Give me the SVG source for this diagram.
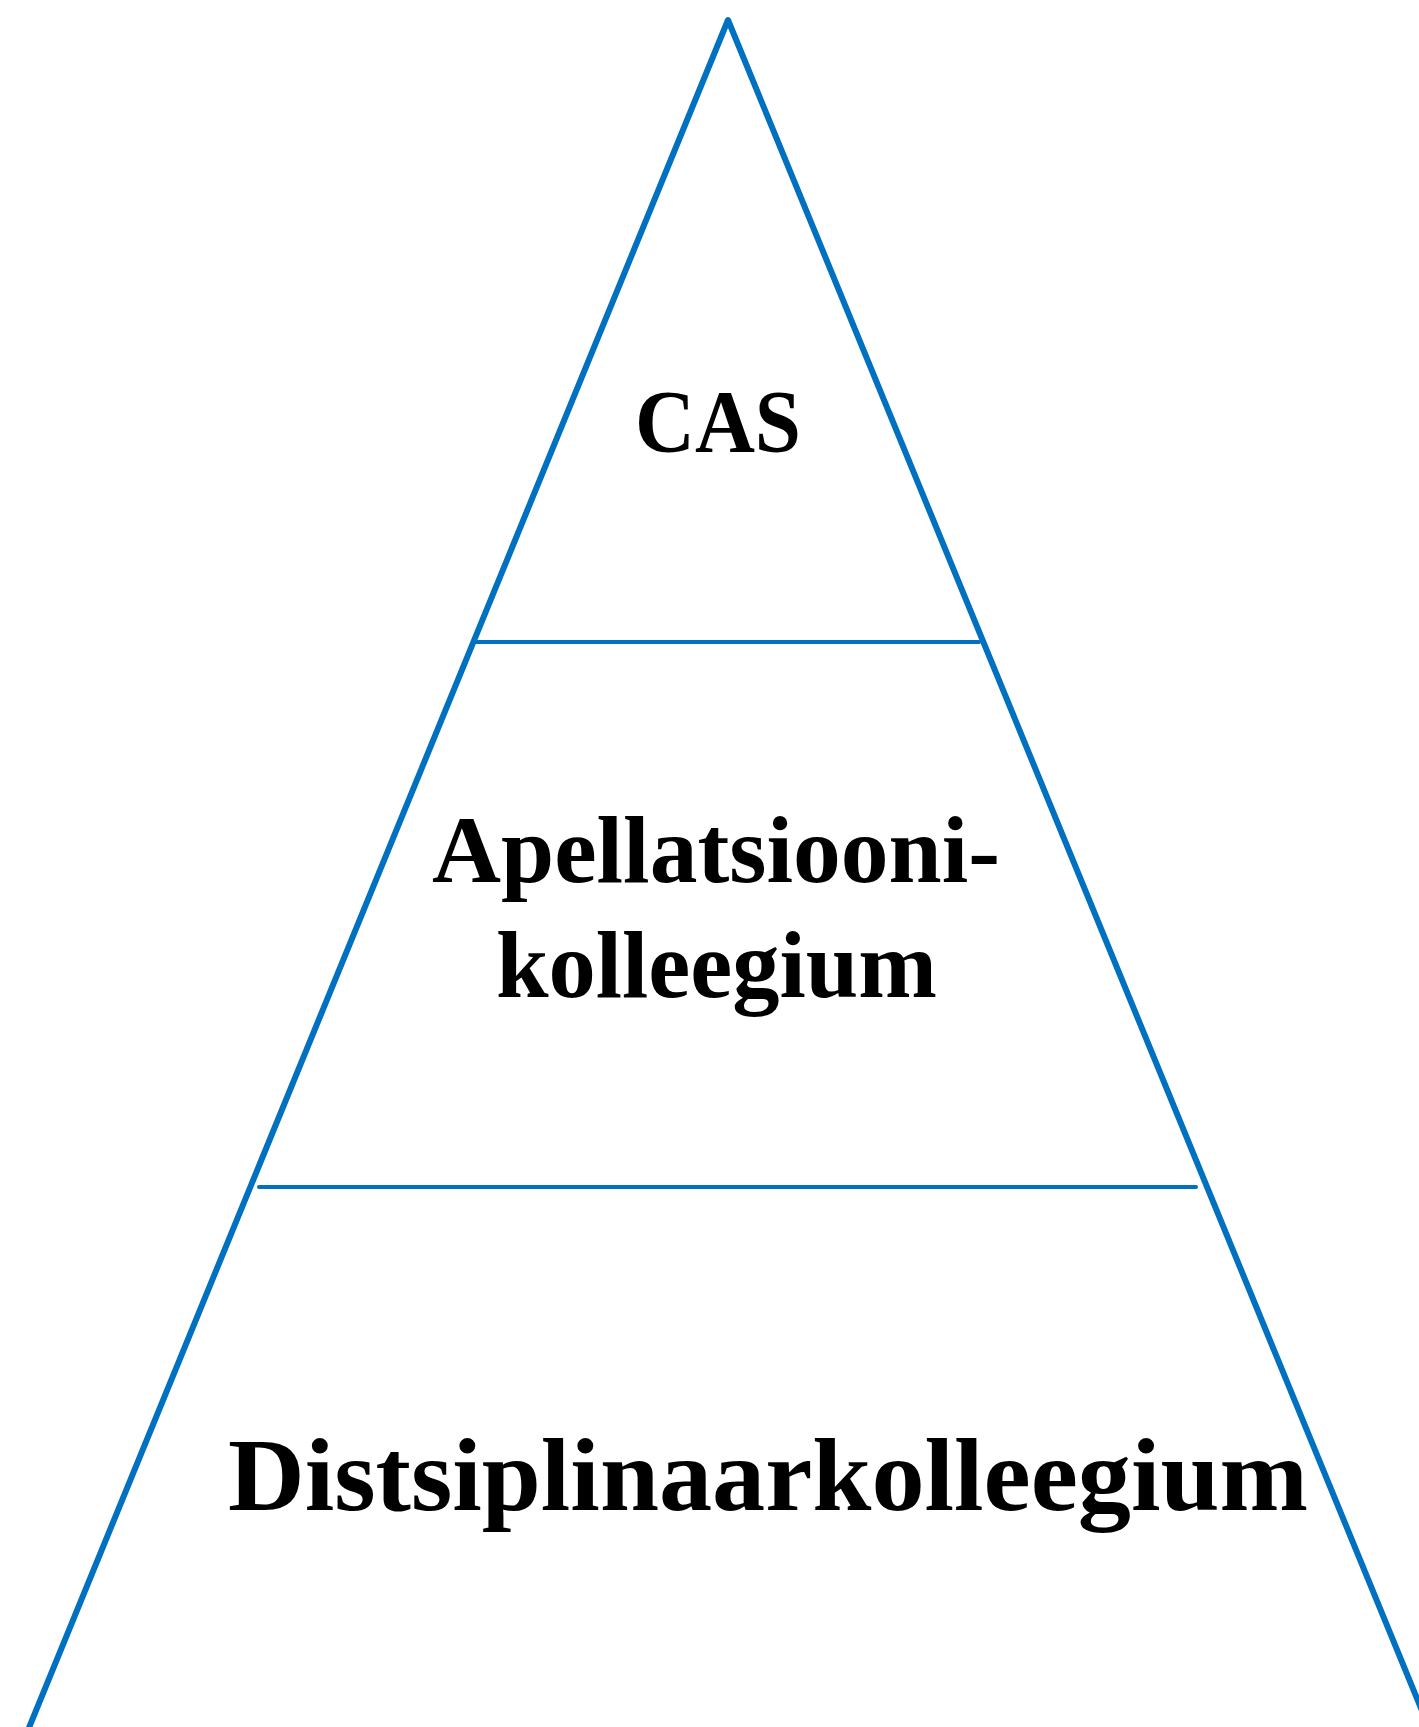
<svg xmlns="http://www.w3.org/2000/svg" width="1419" height="1727" viewBox="0 0 1419 1727">
<style>
.edge{stroke:#0070C0;fill:none;stroke-linejoin:round;stroke-linecap:round}
.lbl{font-family:"Liberation Serif","Times New Roman",serif;font-weight:bold;fill:#000}
</style>
<rect width="1419" height="1727" fill="#fff"/>
<g id="connectors">
<polyline class="edge" stroke-width="6" points="26,1735 728,20 1432,1735"/>
<line class="edge" stroke-width="4" stroke-linecap="butt" x1="475" y1="642" x2="979" y2="642"/>
<line class="edge" stroke-width="4" stroke-linecap="butt" x1="259" y1="1187" x2="1196" y2="1187"/>
</g>
<g id="node-cas">
<text class="lbl" x="635" y="451" font-size="88" textLength="166" lengthAdjust="spacingAndGlyphs">CAS</text>
</g>
<g id="node-apellatsiooni">
<text class="lbl" x="432" y="882" font-size="96" textLength="568" lengthAdjust="spacingAndGlyphs">Apellatsiooni-</text>
<text class="lbl" x="496" y="997" font-size="96" textLength="441" lengthAdjust="spacingAndGlyphs">kolleegium</text>
</g>
<g id="node-distsiplinaar">
<text class="lbl" x="228" y="1510" font-size="104" textLength="1080" lengthAdjust="spacingAndGlyphs">Distsiplinaarkolleegium</text>
</g>
</svg>
